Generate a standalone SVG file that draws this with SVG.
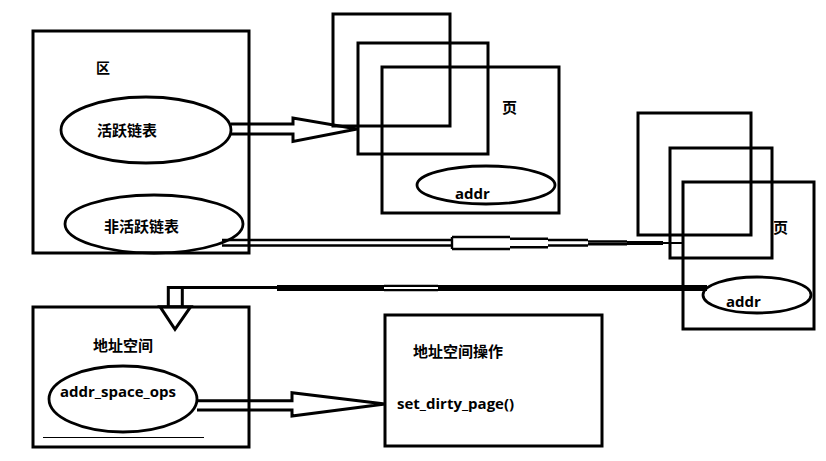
<svg xmlns="http://www.w3.org/2000/svg" width="826" height="461" viewBox="0 0 826 461">
<style>
.box{fill:none;stroke:#000;stroke-width:3}
.ell{fill:none;stroke:#000;stroke-width:2.8}
.cjk{font-family:"Noto Sans CJK SC","Noto Sans CJK JP",sans-serif;font-size:15px;font-weight:bold;fill:#000}
.lat{font-family:"Open Sans","Liberation Sans",sans-serif;font-size:15px;font-weight:bold;fill:#000}
.ln{fill:none;stroke:#000}
</style>
<rect width="826" height="461" fill="#fff"/>
<g id="zone">
<rect class="box" x="33" y="31" width="216" height="222"/>
<text class="cjk" x="96" y="73" style="font-size:14px">区</text>
</g>
<g id="active-list">
<ellipse class="ell" cx="146" cy="130" rx="85" ry="33"/>
<text class="cjk" x="97" y="135.5">活跃链表</text>
</g>
<g id="inactive-list">
<ellipse class="ell" cx="154" cy="224" rx="89" ry="29"/>
<text class="cjk" x="104" y="232">非活跃链表</text>
</g>
<g id="pages-top">
<rect class="box" x="333" y="14" width="117" height="112"/>
<rect class="box" x="358" y="43" width="130" height="111"/>
<rect class="box" x="382" y="67" width="177" height="146"/>
<text class="cjk" x="502" y="113">页</text>
<ellipse class="ell" cx="486" cy="185" rx="69" ry="19"/>
<text class="lat" x="455" y="199">addr</text>
</g>
<g id="pages-right">
<rect class="box" x="638" y="113" width="113" height="122"/>
<rect class="box" x="670" y="148" width="102" height="110"/>
<rect class="box" x="683" y="182" width="131" height="147"/>
<text class="cjk" x="773" y="233">页</text>
<ellipse class="ell" cx="757" cy="295" rx="54" ry="18"/>
<text class="lat" x="726" y="307">addr</text>
</g>
<g id="address-space">
<rect class="box" x="33" y="307" width="216" height="140"/>
<text class="cjk" x="93" y="351">地址空间</text>
<ellipse class="ell" cx="123" cy="399" rx="74" ry="33"/>
<text class="lat" x="60" y="397">addr_space_ops</text>
<line class="ln" x1="43" y1="437.5" x2="204" y2="437.5" stroke-width="1"/>
</g>
<g id="address-space-ops">
<rect class="box" x="385" y="315" width="217" height="131"/>
<text class="cjk" x="413" y="357">地址空间操作</text>
<text class="lat" x="397" y="409">set_dirty_page()</text>
</g>
<g id="connectors">
<path class="ln" stroke-width="3" d="M231 124 H293 V118 L357 129 L293 141.5 V134 H231"/>
<g class="ln" stroke-width="2.4">
<path d="M222 240 H452 M222 245.5 H452"/>
<path d="M452 237 V249 M452 237 H510 M452 249 H510"/>
<path d="M510 238.7 H548 M510 247.3 H548"/>
<path d="M548 240 H588 M548 245.5 H588"/>
<path d="M588 241.5 H627 M588 244.3 H627"/>
</g>
<path class="ln" stroke-width="4" d="M627 243 H663"/>
<path class="ln" stroke-width="2" d="M663 243 H683"/>
<path class="ln" stroke-width="6" d="M707 288 H438 M384 288 H277"/>
<path class="ln" stroke-width="2.2" d="M438 285.9 H384 M438 290.1 H384"/>
<path class="ln" stroke-width="3" d="M277 287.5 H168.3 V306.7 M182.3 287.5 V306.7"/>
<path class="ln" stroke-width="3" fill="#fff" d="M160 306.7 H190.7 L175 329.3 Z"/>
<path class="ln" stroke-width="3" d="M197 400.7 H292 V392.7 L385 404 L292 416 V410 H197"/>
</g>
</svg>
